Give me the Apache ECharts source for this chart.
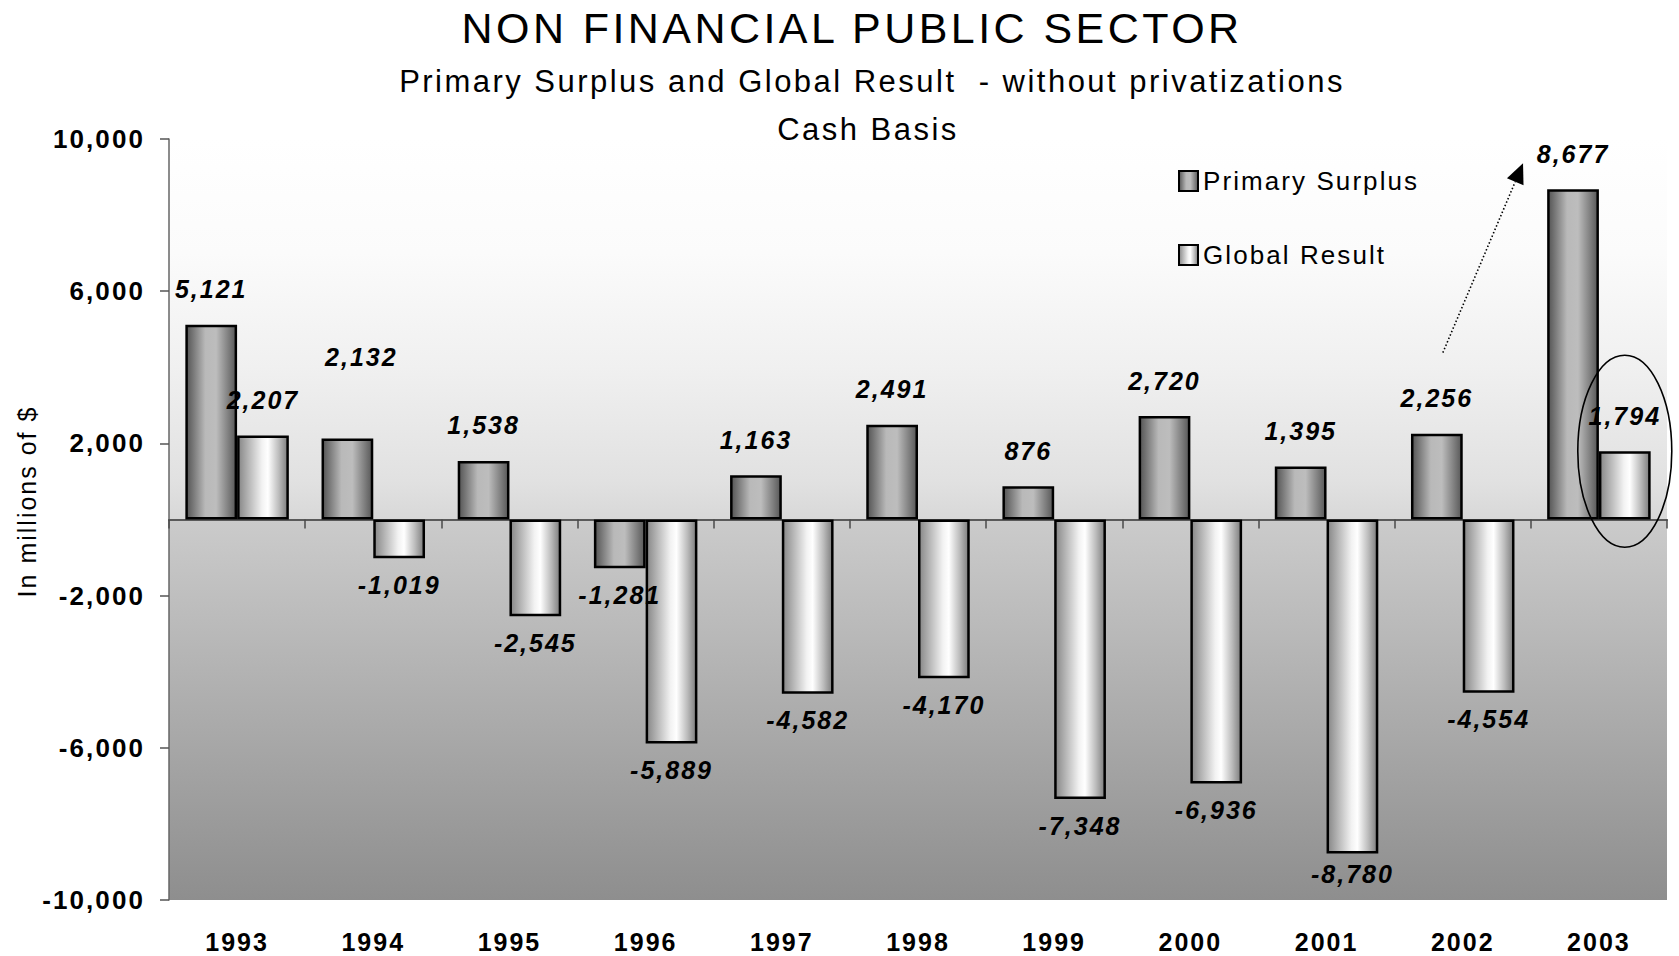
<!DOCTYPE html>
<html>
<head>
<meta charset="utf-8">
<title>Non Financial Public Sector</title>
<script src="https://cdn.jsdelivr.net/npm/echarts@6/dist/echarts.min.js"></script>
<style>
  html, body { margin: 0; padding: 0; background: #ffffff; }
  #chart { width: 1679px; height: 956px; }
  /* slightly spaced lettering for every chart text, and keep double spaces */
  #chart text { letter-spacing: 0.08em; white-space: pre; }
</style>
</head>
<body>
<div id="chart"></div>
<script>
// ---- data (millions of $) ----
const years = ['1993', '1994', '1995', '1996', '1997', '1998', '1999', '2000', '2001', '2002', '2003'];
const primarySurplus = [5121, 2132, 1538, -1281, 1163, 2491, 876, 2720, 1395, 2256, 8677];
const globalResult = [2207, -1019, -2545, -5889, -4582, -4170, -7348, -6936, -8780, -4554, 1794];
const yTickValues = [-10000, -6000, -2000, 2000, 6000, 10000];

// ---- styling ----
const FONT = "'Liberation Sans', Arial, Helvetica, sans-serif";
const fmt = v => v.toLocaleString('en-US');
const CATEGORY_GAP = 0.24;

// label nudges for crowded spots (pixel offsets)
const primaryLabelNudge = { '1994': [14, -46] };
const globalLabelNudge = { '2001': [0, -6] };

const primaryFill = new echarts.graphic.LinearGradient(0, 0, 1, 0, [
  { offset: 0.00, color: '#555555' },
  { offset: 0.12, color: '#747474' },
  { offset: 0.38, color: '#b9b9b9' },
  { offset: 0.60, color: '#bdbdbd' },
  { offset: 0.86, color: '#7c7c7c' },
  { offset: 1.00, color: '#585858' }
]);
const globalFill = new echarts.graphic.LinearGradient(0, 0, 1, 0, [
  { offset: 0.00, color: '#878787' },
  { offset: 0.20, color: '#b4b4b4' },
  { offset: 0.48, color: '#f2f2f2' },
  { offset: 0.60, color: '#ffffff' },
  { offset: 0.82, color: '#bcbcbc' },
  { offset: 1.00, color: '#7d7d7d' }
]);
const plotFill = new echarts.graphic.LinearGradient(0, 0, 0, 1, [
  { offset: 0.00, color: '#ffffff' },
  { offset: 0.15, color: '#fbfbfb' },
  { offset: 0.30, color: '#f0f0f0' },
  { offset: 0.45, color: '#e1e1e1' },
  { offset: 0.499, color: '#d8d8d8' },
  { offset: 0.501, color: '#cbcbcb' },
  { offset: 1.00, color: '#8e8e8e' }
]);

function barData(values, nudges) {
  return values.map((v, i) => {
    const item = { value: v, label: { distance: v < 0 ? 14 : 23 } };
    const n = nudges[years[i]];
    if (n) item.label.offset = n;
    return item;
  });
}

const valueLabel = {
  show: true,
  position: 'outside',
  formatter: p => fmt(p.value),
  fontFamily: FONT,
  fontSize: 25,
  fontWeight: 'bold',
  fontStyle: 'italic',
  color: '#000000'
};

const titleStyle = (size) => ({
  fontFamily: FONT, fontSize: size, lineHeight: size, fontWeight: 'normal', color: '#000000'
});

const option = {
  backgroundColor: '#ffffff',
  animation: false,
  title: [
    { text: 'NON FINANCIAL PUBLIC SECTOR', left: 852, top: 6, textAlign: 'center', padding: 0,
      textStyle: titleStyle(43) },
    { text: 'Primary Surplus and Global Result  - without privatizations', left: 872, top: 66,
      textAlign: 'center', padding: 0, textStyle: titleStyle(31) },
    { text: 'Cash Basis', left: 868, top: 114, textAlign: 'center', padding: 0,
      textStyle: titleStyle(31) }
  ],
  legend: {
    orient: 'vertical',
    left: 1173,
    top: 163,
    itemWidth: 19,
    itemHeight: 20,
    itemGap: 48,
    icon: 'rect',
    itemStyle: { borderWidth: 2, borderColor: '#000000' },
    textStyle: { fontFamily: FONT, fontSize: 26, lineHeight: 26, color: '#000000' },
    data: ['Primary Surplus', 'Global Result']
  },
  grid: {
    left: 169, right: 12, top: 139, bottom: 56,
    containLabel: false,
    outerBoundsMode: 'none',
    show: true,
    borderWidth: 0,
    backgroundColor: plotFill
  },
  xAxis: [
    {
      type: 'category',
      data: years,
      position: 'bottom',
      axisLine: { show: false, onZero: false },
      axisTick: { show: false },
      splitLine: { show: false },
      axisLabel: {
        margin: 29,
        fontFamily: FONT, fontSize: 25, fontWeight: 'bold', color: '#000000'
      }
    },
    {
      type: 'category',
      data: years,
      position: 'bottom',
      axisLine: { show: true, onZero: true, lineStyle: { color: '#5a5a5a', width: 2 } },
      axisTick: { show: true, length: 9, lineStyle: { color: '#4a4a4a', width: 1.5 } },
      axisLabel: { show: false },
      splitLine: { show: false }
    }
  ],
  yAxis: {
    type: 'value',
    min: yTickValues[0],
    max: yTickValues[yTickValues.length - 1],
    interval: yTickValues[1] - yTickValues[0],
    name: 'In millions of $',
    nameLocation: 'middle',
    nameRotate: 90,
    nameGap: 130,
    nameTextStyle: { fontFamily: FONT, fontSize: 25, color: '#000000', padding: [0, 0, 0, 36] },
    axisLine: { show: true, lineStyle: { color: '#666666', width: 1.5 } },
    axisTick: { show: true, length: 9, lineStyle: { color: '#555555', width: 1.5 } },
    splitLine: { show: false },
    axisLabel: {
      margin: 24,
      formatter: v => fmt(v),
      fontFamily: FONT, fontSize: 26, fontWeight: 'bold', color: '#000000'
    }
  },
  series: [
    {
      name: 'Primary Surplus',
      type: 'bar',
      xAxisIndex: 0,
      data: barData(primarySurplus, primaryLabelNudge),
      barGap: '0%',
      barCategoryGap: (CATEGORY_GAP * 100) + '%',
      itemStyle: { color: primaryFill, borderColor: '#000000', borderWidth: 2.5 },
      label: valueLabel,
      z: 3
    },
    {
      name: 'Global Result',
      type: 'bar',
      xAxisIndex: 0,
      data: barData(globalResult, globalLabelNudge),
      barGap: '0%',
      barCategoryGap: (CATEGORY_GAP * 100) + '%',
      itemStyle: { color: globalFill, borderColor: '#000000', borderWidth: 2.5 },
      label: valueLabel,
      z: 3
    }
  ]
};

const chart = echarts.init(document.getElementById('chart'), null, { renderer: 'svg' });
chart.setOption(option);

// Callouts: dotted arrow from 2002 up to the 2003 surplus, ring around the 2003 global result
function drawCallouts() {
  const px = (cat, v) => chart.convertToPixel({ gridIndex: 0 }, [cat, v]);
  const band = px(years[1], 0)[0] - px(years[0], 0)[0];
  const half = band * (1 - CATEGORY_GAP) / 4; // distance from category centre to each bar centre

  const i02 = years.indexOf('2002');
  const i03 = years.indexOf('2003');
  const a = px('2002', primarySurplus[i02]);
  const b = px('2003', primarySurplus[i03]);
  const c = px('2003', globalResult[i03]);

  const start = [a[0] - half + 6, a[1] - 81];
  const tip = [b[0] - half - 50, b[1] - 26];
  const dx = tip[0] - start[0], dy = tip[1] - start[1];
  const len = Math.sqrt(dx * dx + dy * dy);
  const ux = dx / len, uy = dy / len;
  const headLen = 20, headHalf = 9;
  const base = [tip[0] - ux * headLen, tip[1] - uy * headLen];
  const nx = -uy, ny = ux;

  chart.setOption({
    graphic: [
      {
        type: 'line',
        shape: { x1: start[0], y1: start[1], x2: base[0], y2: base[1] },
        style: { stroke: '#000000', lineWidth: 1.6, lineDash: [1.5, 2.2] },
        z: 10
      },
      {
        type: 'polygon',
        shape: { points: [tip, [base[0] + nx * headHalf, base[1] + ny * headHalf], [base[0] - nx * headHalf, base[1] - ny * headHalf]] },
        style: { fill: '#000000' },
        z: 10
      },
      {
        type: 'ellipse',
        shape: { cx: c[0] + half, cy: c[1], rx: 47, ry: 96 },
        style: { fill: 'none', stroke: '#000000', lineWidth: 1.6 },
        z: 10
      }
    ]
  });
}
drawCallouts();
</script>
</body>
</html>
